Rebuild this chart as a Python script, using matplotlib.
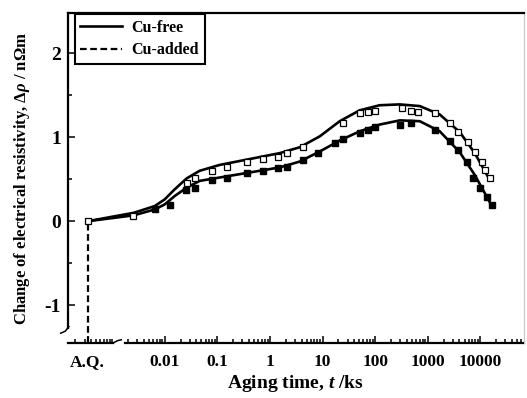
import numpy as np
import matplotlib
matplotlib.use("Agg")
import matplotlib.pyplot as plt
from matplotlib.ticker import FixedLocator, LogLocator, NullFormatter

plt.rcParams["font.family"] = ["Liberation Serif", "DejaVu Serif"]
plt.rcParams["font.weight"] = "bold"
plt.rcParams["axes.unicode_minus"] = False
plt.rcParams["mathtext.fontset"] = "custom"
plt.rcParams["mathtext.rm"] = "Liberation Serif:bold"
plt.rcParams["mathtext.it"] = "Liberation Serif:italic:bold"
plt.rcParams["mathtext.bf"] = "Liberation Serif:bold"

# as-quenched state is placed on the log axis at this time
aq = 3.43e-4

# Cu-free: measured points (open squares) and fitted curve
free_t = [aq, 0.00247, 0.0262, 0.0372, 0.0783, 0.151, 0.362, 0.73, 1.41, 2.08, 4.2,
          24.2, 51, 72, 98, 320, 475, 646, 1360, 2620, 3720, 5760, 7830, 10600, 12100, 15100]
free_v = [0.0, 0.06, 0.45, 0.51, 0.60, 0.65, 0.70, 0.74, 0.77, 0.81, 0.88,
          1.17, 1.29, 1.30, 1.31, 1.35, 1.31, 1.30, 1.29, 1.17, 1.06, 0.94, 0.82, 0.70, 0.61, 0.51]
free_fit_t = [aq, 0.00258, 0.00645, 0.01, 0.0155, 0.0262, 0.0462, 0.111, 0.413, 1.53, 3.69,
              8.86, 21.2, 51, 122, 294, 705, 1690, 4060, 7830, 15100]
free_fit_v = [0.0, 0.10, 0.18, 0.26, 0.38, 0.51, 0.60, 0.67, 0.74, 0.81, 0.88,
              1.01, 1.19, 1.32, 1.38, 1.39, 1.37, 1.27, 1.06, 0.81, 0.49]

# Cu-added: measured points (filled squares) and fitted curve
add_t = [0.00645, 0.0124, 0.0251, 0.0372, 0.0783, 0.151, 0.362, 0.73, 1.41, 2.08, 4.2,
         8.1, 17.1, 24.2, 51, 72, 98, 294, 475, 1360, 2620, 3720, 5500, 7170, 9750, 13200, 16500]
add_v = [0.15, 0.19, 0.37, 0.40, 0.49, 0.52, 0.57, 0.60, 0.63, 0.65, 0.73,
         0.81, 0.93, 0.98, 1.05, 1.08, 1.12, 1.15, 1.17, 1.08, 0.96, 0.85, 0.70, 0.51, 0.39, 0.29, 0.19]
add_fit_t = [aq, 0.00258, 0.00645, 0.01, 0.0155, 0.0262, 0.0462, 0.111, 0.413, 1.53, 3.69,
             8.86, 21.2, 51, 122, 294, 705, 1690, 4060, 7830, 16900]
add_fit_v = [0.0, 0.07, 0.14, 0.20, 0.30, 0.40, 0.48, 0.52, 0.58, 0.64, 0.71,
             0.83, 0.96, 1.07, 1.15, 1.20, 1.19, 1.07, 0.82, 0.55, 0.17]

xticks = [aq, 0.01, 0.1, 1, 10, 100, 1000, 10000]
xlabels = ["A.Q.", "0.01", "0.1", "1", "10", "100", "1000", "10000"]

fig = plt.figure(figsize=(5.27, 3.98), dpi=100)
ax = fig.add_axes([0.129, 0.138, 0.865, 0.829])

ymin, ymax = -1.45, 2.476
ax.set_xscale("log")
ax.set_xlim(1.45e-4, 6.7e4)
ax.set_ylim(ymin, ymax)

ax.plot(free_fit_t, free_fit_v, color="black", lw=1.9, label="Cu-free", zorder=3)
ax.plot(add_fit_t, add_fit_v, color="black", lw=1.9, zorder=3)
ax.plot([aq, aq], [ymin, 0], color="black", lw=1.6, dashes=(3, 1.6), label="Cu-added")
ax.plot(free_t, free_v, ls="none", marker="s", ms=5, mfc="white", mec="black", mew=0.9, zorder=4)
ax.plot(add_t, add_v, ls="none", marker="s", ms=4.5, mfc="black", mec="black", zorder=4)

# broken axes: hide the left/bottom spines and draw them by hand
for s in ["left", "bottom"]:
    ax.spines[s].set_visible(False)
ax.spines["top"].set_linewidth(1.6)
ax.spines["right"].set_color("#c8c8c8")
ax.spines["right"].set_linewidth(0.8)
tr = ax.transAxes
ax.plot([0, 0], [0.045, 1], color="black", lw=1.6, transform=tr, clip_on=False)
ax.plot([-0.016, -0.006, 0.002], [0.030, 0.036, 0.050], color="black", lw=1.1, transform=tr, clip_on=False)
ax.plot([0, 0.099], [0, 0], color="black", lw=1.6, transform=tr, clip_on=False)
ax.plot([0.099, 0.108, 0.117], [0.0, 0.007, 0.010], color="black", lw=1.1, transform=tr, clip_on=False)
ax.plot([0.125, 1], [0, 0], color="black", lw=1.6, transform=tr, clip_on=False)

ax.xaxis.set_major_locator(FixedLocator(xticks))
ax.set_xticklabels(xlabels)
ax.xaxis.set_minor_locator(LogLocator(base=10, subs=np.arange(1, 10), numticks=20))
ax.xaxis.set_minor_formatter(NullFormatter())
ax.set_yticks([-1, 0, 1, 2])
ax.set_yticks([-0.5, 0.5, 1.5], minor=True)
ax.tick_params(which="both", direction="in", width=1.1, top=False, right=False)
ax.tick_params(which="major", length=5)
ax.tick_params(which="minor", length=3)
ax.tick_params(axis="x", which="major", labelsize=12.5, pad=8)
ax.tick_params(axis="y", which="major", labelsize=14, pad=5)

ax.set_xlabel(r"Aging time, $t$ /ks", fontsize=14, fontweight="bold", labelpad=2)
ax.set_ylabel(r"Change of electrical resistivity, $\Delta\rho$ / n$\Omega$m", fontsize=12,
              fontweight="bold", labelpad=9)

leg = ax.legend(loc="upper left", bbox_to_anchor=(0.015, 0.997), borderaxespad=0,
                fancybox=False, framealpha=1, edgecolor="black", fontsize=11.5,
                handlelength=2.6, borderpad=0.35, labelspacing=0.4, handletextpad=0.6)
leg.get_frame().set_linewidth(1.5)

fig.savefig("out.png", dpi=100)
